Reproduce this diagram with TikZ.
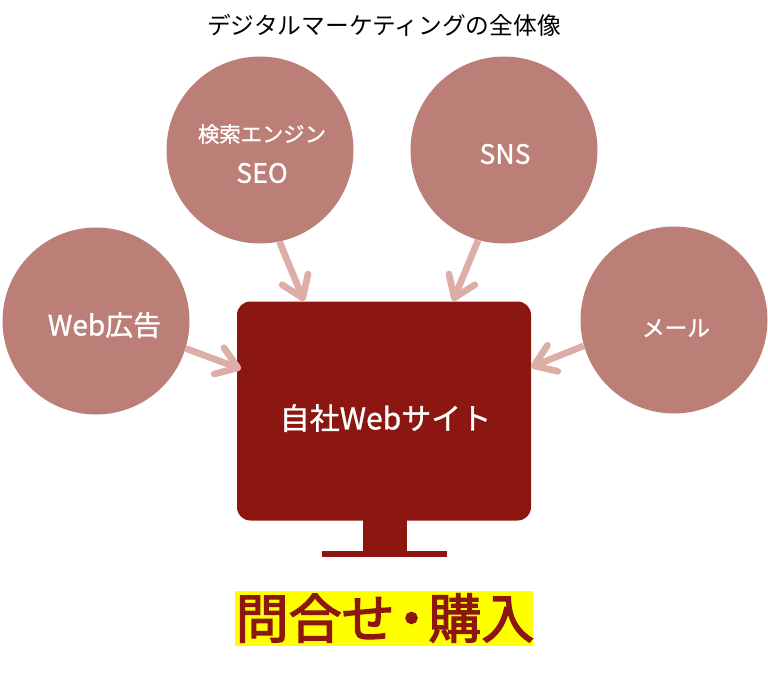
\documentclass[tikz,border=0pt]{standalone}
\usepackage{fontspec}
\setmainfont{Noto Sans CJK JP}
\newfontfamily\medf[FakeBold=1]{Noto Sans CJK JP}
\newfontfamily\ctaf[FakeBold=2.5]{Noto Sans CJK JP}
\usetikzlibrary{arrows.meta}
\definecolor{circ}{HTML}{BC7F78}
\definecolor{dark}{HTML}{8C1710}
\definecolor{arr}{HTML}{DDADA8}
\definecolor{hilite}{HTML}{FFFF00}
\tikzset{
 px/.style={x=0.75pt,y=-0.75pt},
 bub/.style={circle,fill=circ,minimum size=140.25pt,inner sep=0pt},
 lbl/.style={text=white,inner sep=0pt},
 conn/.style={draw=arr,line width=5pt,-{Straight Barb[length=15pt,width=21pt,line width=5pt,round]}}
}
\begin{document}
\begin{tikzpicture}[px]
\useasboundingbox (0,0) rectangle (768,679);
\fill[white] (0,0) rectangle (768,679);
\node (title) at (384,25) {\fontsize{17.8}{20}\selectfont デジタルマーケティングの全体像};
\node[bub] (seo) at (260,150) {};
\node[bub] (sns) at (504,150) {};
\node[bub] (web) at (96,321) {};
\node[bub] (mail) at (674,320) {};
\node[lbl,font=\medf\fontsize{16}{20}\selectfont] (seot1) at (262,134) {検索エンジン};
\node[lbl,font=\medf\fontsize{20}{20}\selectfont] (seot2) at (262,173) {SEO};
\node[lbl,font=\medf\fontsize{20}{20}\selectfont] (snst) at (505,154) {SNS};
\node[lbl,font=\medf\fontsize{21}{20}\selectfont] (webt) at (104.5,325) {Web広告};
\node[lbl,font=\medf\fontsize{17}{20}\selectfont] (mailt) at (676,328) {メール};
\node[fill=dark,rounded corners=10pt,minimum width=220.5pt,minimum height=164.25pt,inner sep=0pt] (site) at (384,411) {};
\node[lbl,font=\medf\fontsize{22.5}{26}\selectfont] (sitet) at (385.5,418) {自社Webサイト};
\node[fill=dark,minimum width=33pt,minimum height=24pt,inner sep=0pt] (neck) at (384.5,536) {};
\node[fill=dark,minimum width=94pt,minimum height=5pt,inner sep=0pt] (base) at (384.5,554) {};
\node[fill=hilite,minimum width=223.5pt,minimum height=41pt,inner sep=0pt] (cta) at (384,618.5) {};
\node[text=dark,inner sep=0pt,font=\ctaf\fontsize{39.7}{40}\selectfont] (ctat) at (385,618) {問合せ\kern-0.18em・\kern-0.18em購入};
\coordinate (a1) at (304,301);
\coordinate (a2) at (453,301);
\coordinate (a3) at (241,369);
\coordinate (a4) at (531,367);
\draw[conn] (seo.-78) -- (a1);
\draw[conn] (sns.-106) -- (a2);
\draw[conn] (web.-17.6) -- (a3);
\draw[conn] (mail.196) -- (a4);
\end{tikzpicture}
\end{document}
